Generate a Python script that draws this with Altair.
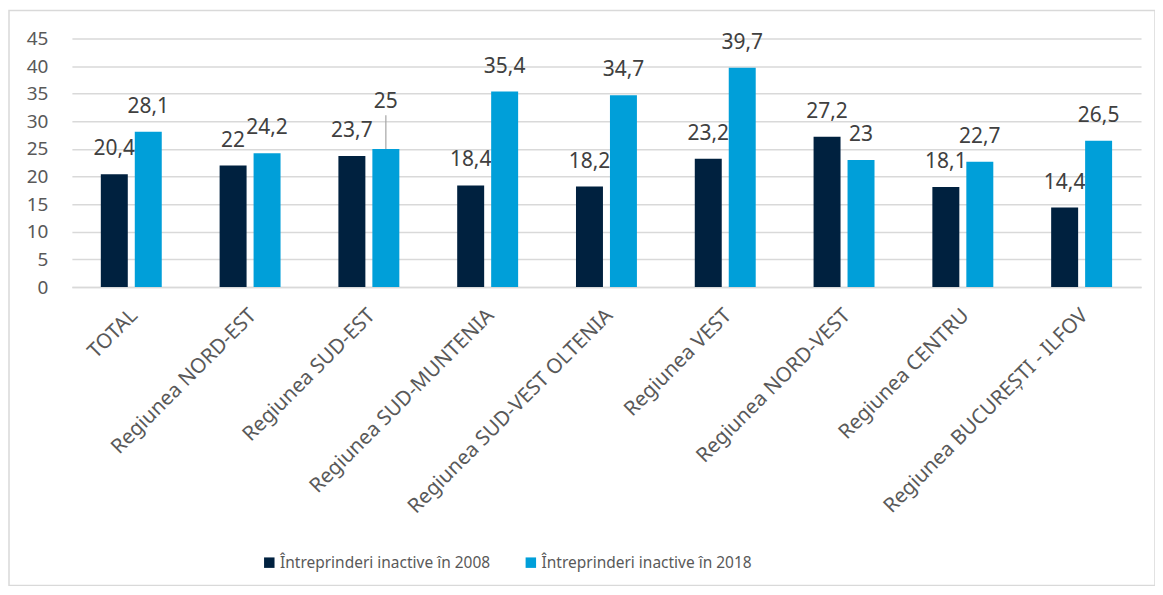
import altair as alt
import pandas as pd

categories = ["TOTAL", "Regiunea NORD-EST", "Regiunea SUD-EST", "Regiunea SUD-MUNTENIA",
              "Regiunea SUD-VEST OLTENIA", "Regiunea VEST", "Regiunea NORD-VEST",
              "Regiunea CENTRU", "Regiunea BUCUREȘTI - ILFOV"]
series = ["Întreprinderi inactive în 2008", "Întreprinderi inactive în 2018"]
values_2008 = [20.4, 22, 23.7, 18.4, 18.2, 23.2, 27.2, 18.1, 14.4]
values_2018 = [28.1, 24.2, 25, 35.4, 34.7, 39.7, 23, 22.7, 26.5]
y_ticks = [0, 5, 10, 15, 20, 25, 30, 35, 40, 45]
colors = ["#00213F", "#009FD9"]

rows = []
for c, a, b in zip(categories, values_2008, values_2018):
    rows.append({"cat": c, "series": series[0], "value": a})
    rows.append({"cat": c, "series": series[1], "value": b})
df = pd.DataFrame(rows)
df["label"] = df["value"].map(lambda v: (f"{v:g}").replace(".", ","))

FONT = "Noto Sans"
W, H = 1071, 249

x = alt.X("cat:N", sort=categories, title=None,
          scale=alt.Scale(paddingInner=0.487, paddingOuter=0.2435),
          axis=alt.Axis(labelAngle=-45, labelFontSize=20.5, labelColor="#595959",
                        labelFont=FONT, ticks=False, domain=True, domainColor="#d9d9d9",
                        domainWidth=1.5, labelPadding=18, labelOffset=-4, labelLimit=500))
xo = alt.XOffset("series:N", sort=series, scale=alt.Scale(paddingInner=0.206, paddingOuter=0))
y = alt.Y("value:Q", title=None,
          scale=alt.Scale(domain=[0, 45], nice=False),
          axis=alt.Axis(values=y_ticks, labelFontSize=19, labelColor="#595959",
                        labelFont=FONT, ticks=False, domain=False, gridColor="#d9d9d9",
                        gridWidth=1.5, labelPadding=24, labelOverlap=False))

base = alt.Chart(df)

bars = base.mark_bar().encode(
    x=x, xOffset=xo, y=y,
    color=alt.Color("series:N", sort=series,
                    scale=alt.Scale(domain=series, range=colors),
                    legend=alt.Legend(title=None, orient="none", direction="horizontal",
                                      legendX=190, legendY=517, labelFontSize=15.5,
                                      labelColor="#595959", labelFont=FONT,
                                      symbolType="square", symbolSize=110,
                                      symbolStrokeWidth=0, columnPadding=32,
                                      labelOffset=3, labelLimit=400)),
)

is_callout = "datum.cat == 'Regiunea SUD-EST' && datum.series == '" + series[1] + "'"

labels = base.transform_filter("!(" + is_callout + ")").mark_text(
    baseline="alphabetic", dy=-19, fontSize=21, color="#404040", font=FONT
).encode(x=x, xOffset=xo, y=y, text="label:N")

callout_label = base.transform_filter(is_callout).mark_text(
    baseline="alphabetic", dy=-41, fontSize=21, color="#404040", font=FONT
).encode(x=x, xOffset=xo, y=y, text="label:N")

callout_line = base.transform_filter(is_callout).transform_calculate(
    top="datum.value + 6.1"
).mark_rule(color="#a6a6a6", strokeWidth=1.2).encode(
    x=x, xOffset=xo, y=y, y2="top:Q")

frame = alt.Chart(pd.DataFrame({"a": [0]})).mark_rect(
    fill=None, stroke="#d9d9d9", strokeWidth=1.5
).encode(x=alt.value(-63), x2=alt.value(1085), y=alt.value(-28), y2=alt.value(548))

chart = alt.layer(frame, bars, labels, callout_line, callout_label).properties(
    width=W, height=H,
    autosize=alt.AutoSizeParams(type="none"),
    padding={"left": 64, "top": 30, "right": 14, "bottom": 299},
).configure_view(stroke=None)

chart.save("out.html", embed_options={"renderer": "svg", "actions": False})
